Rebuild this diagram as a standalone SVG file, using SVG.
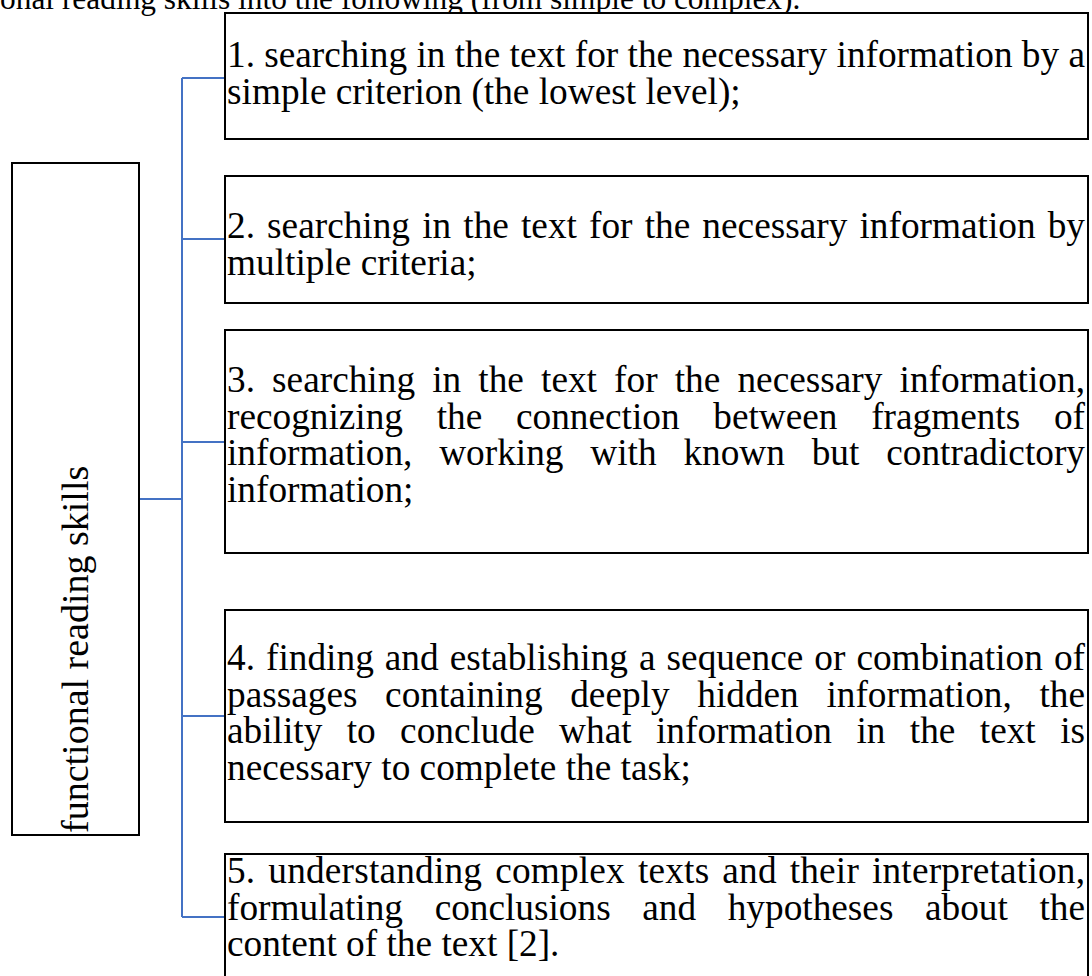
<svg xmlns="http://www.w3.org/2000/svg" width="1092" height="976" viewBox="0 0 1092 976">
<style>
.box{fill:#fff;stroke:#000;stroke-width:2}
.conn{fill:none;stroke:#4472C4;stroke-width:2}
.t{font-family:"Liberation Serif","Times New Roman",serif;font-size:37.3px;fill:#000}
.tb{font-family:"Liberation Serif","Times New Roman",serif;font-size:31.4px;fill:#000}
.tv{font-family:"Liberation Serif","Times New Roman",serif;font-size:38px;fill:#000}
</style>
<rect width="1092" height="976" fill="#fff"/>
<text class="tb" x="0" y="9">onal reading skills into the following (from simple to complex).</text>
<g id="connectors">
<path class="conn" d="M182,78 V917"/>
<path class="conn" d="M139,499 H182"/>
<path class="conn" d="M182,78 H225"/>
<path class="conn" d="M182,239 H225"/>
<path class="conn" d="M182,442 H225"/>
<path class="conn" d="M182,716 H225"/>
<path class="conn" d="M182,917 H225"/>
</g>
<g id="root">
<rect class="box" x="12" y="163" width="127" height="672"/>
<text class="tv" transform="translate(88,833) rotate(-90)" x="0" y="0">functional reading skills</text>
</g>
<g id="item1">
<rect class="box" x="225" y="13" width="863" height="126"/>
<text class="t" x="227" y="67" textLength="858" lengthAdjust="spacing">1. searching in the text for the necessary information by a</text>
<text class="t" x="227" y="104">simple criterion (the lowest level);</text>
</g>
<g id="item2">
<rect class="box" x="225" y="176" width="863" height="127"/>
<text class="t" x="227" y="238" word-spacing="2.8" textLength="858" lengthAdjust="spacing">2. searching in the text for the necessary information by</text>
<text class="t" x="227" y="275">multiple criteria;</text>
</g>
<g id="item3">
<rect class="box" x="225" y="330" width="863" height="223"/>
<text class="t" x="227" y="392" word-spacing="7.8" textLength="858" lengthAdjust="spacing">3. searching in the text for the necessary information,</text>
<text class="t" x="227" y="428.5" word-spacing="24.4" textLength="858" lengthAdjust="spacing">recognizing the connection between fragments of</text>
<text class="t" x="227" y="465" word-spacing="17.5" textLength="858" lengthAdjust="spacing">information, working with known but contradictory</text>
<text class="t" x="227" y="501.5">information;</text>
</g>
<g id="item4">
<rect class="box" x="225" y="610" width="863" height="212"/>
<text class="t" x="227" y="670" word-spacing="1.7" textLength="858" lengthAdjust="spacing">4. finding and establishing a sequence or combination of</text>
<text class="t" x="227" y="706.5" word-spacing="18.3" textLength="858" lengthAdjust="spacing">passages containing deeply hidden information, the</text>
<text class="t" x="227" y="743" word-spacing="15.1" textLength="858" lengthAdjust="spacing">ability to conclude what information in the text is</text>
<text class="t" x="227" y="779.5">necessary to complete the task;</text>
</g>
<g id="item5">
<rect class="box" x="225" y="854" width="863" height="140"/>
<text class="t" x="227" y="883" word-spacing="3.4" textLength="858" lengthAdjust="spacing">5. understanding complex texts and their interpretation,</text>
<text class="t" x="227" y="919.5" word-spacing="22.3" textLength="858" lengthAdjust="spacing">formulating conclusions and hypotheses about the</text>
<text class="t" x="227" y="956">content of the text [2].</text>
</g>
</svg>
